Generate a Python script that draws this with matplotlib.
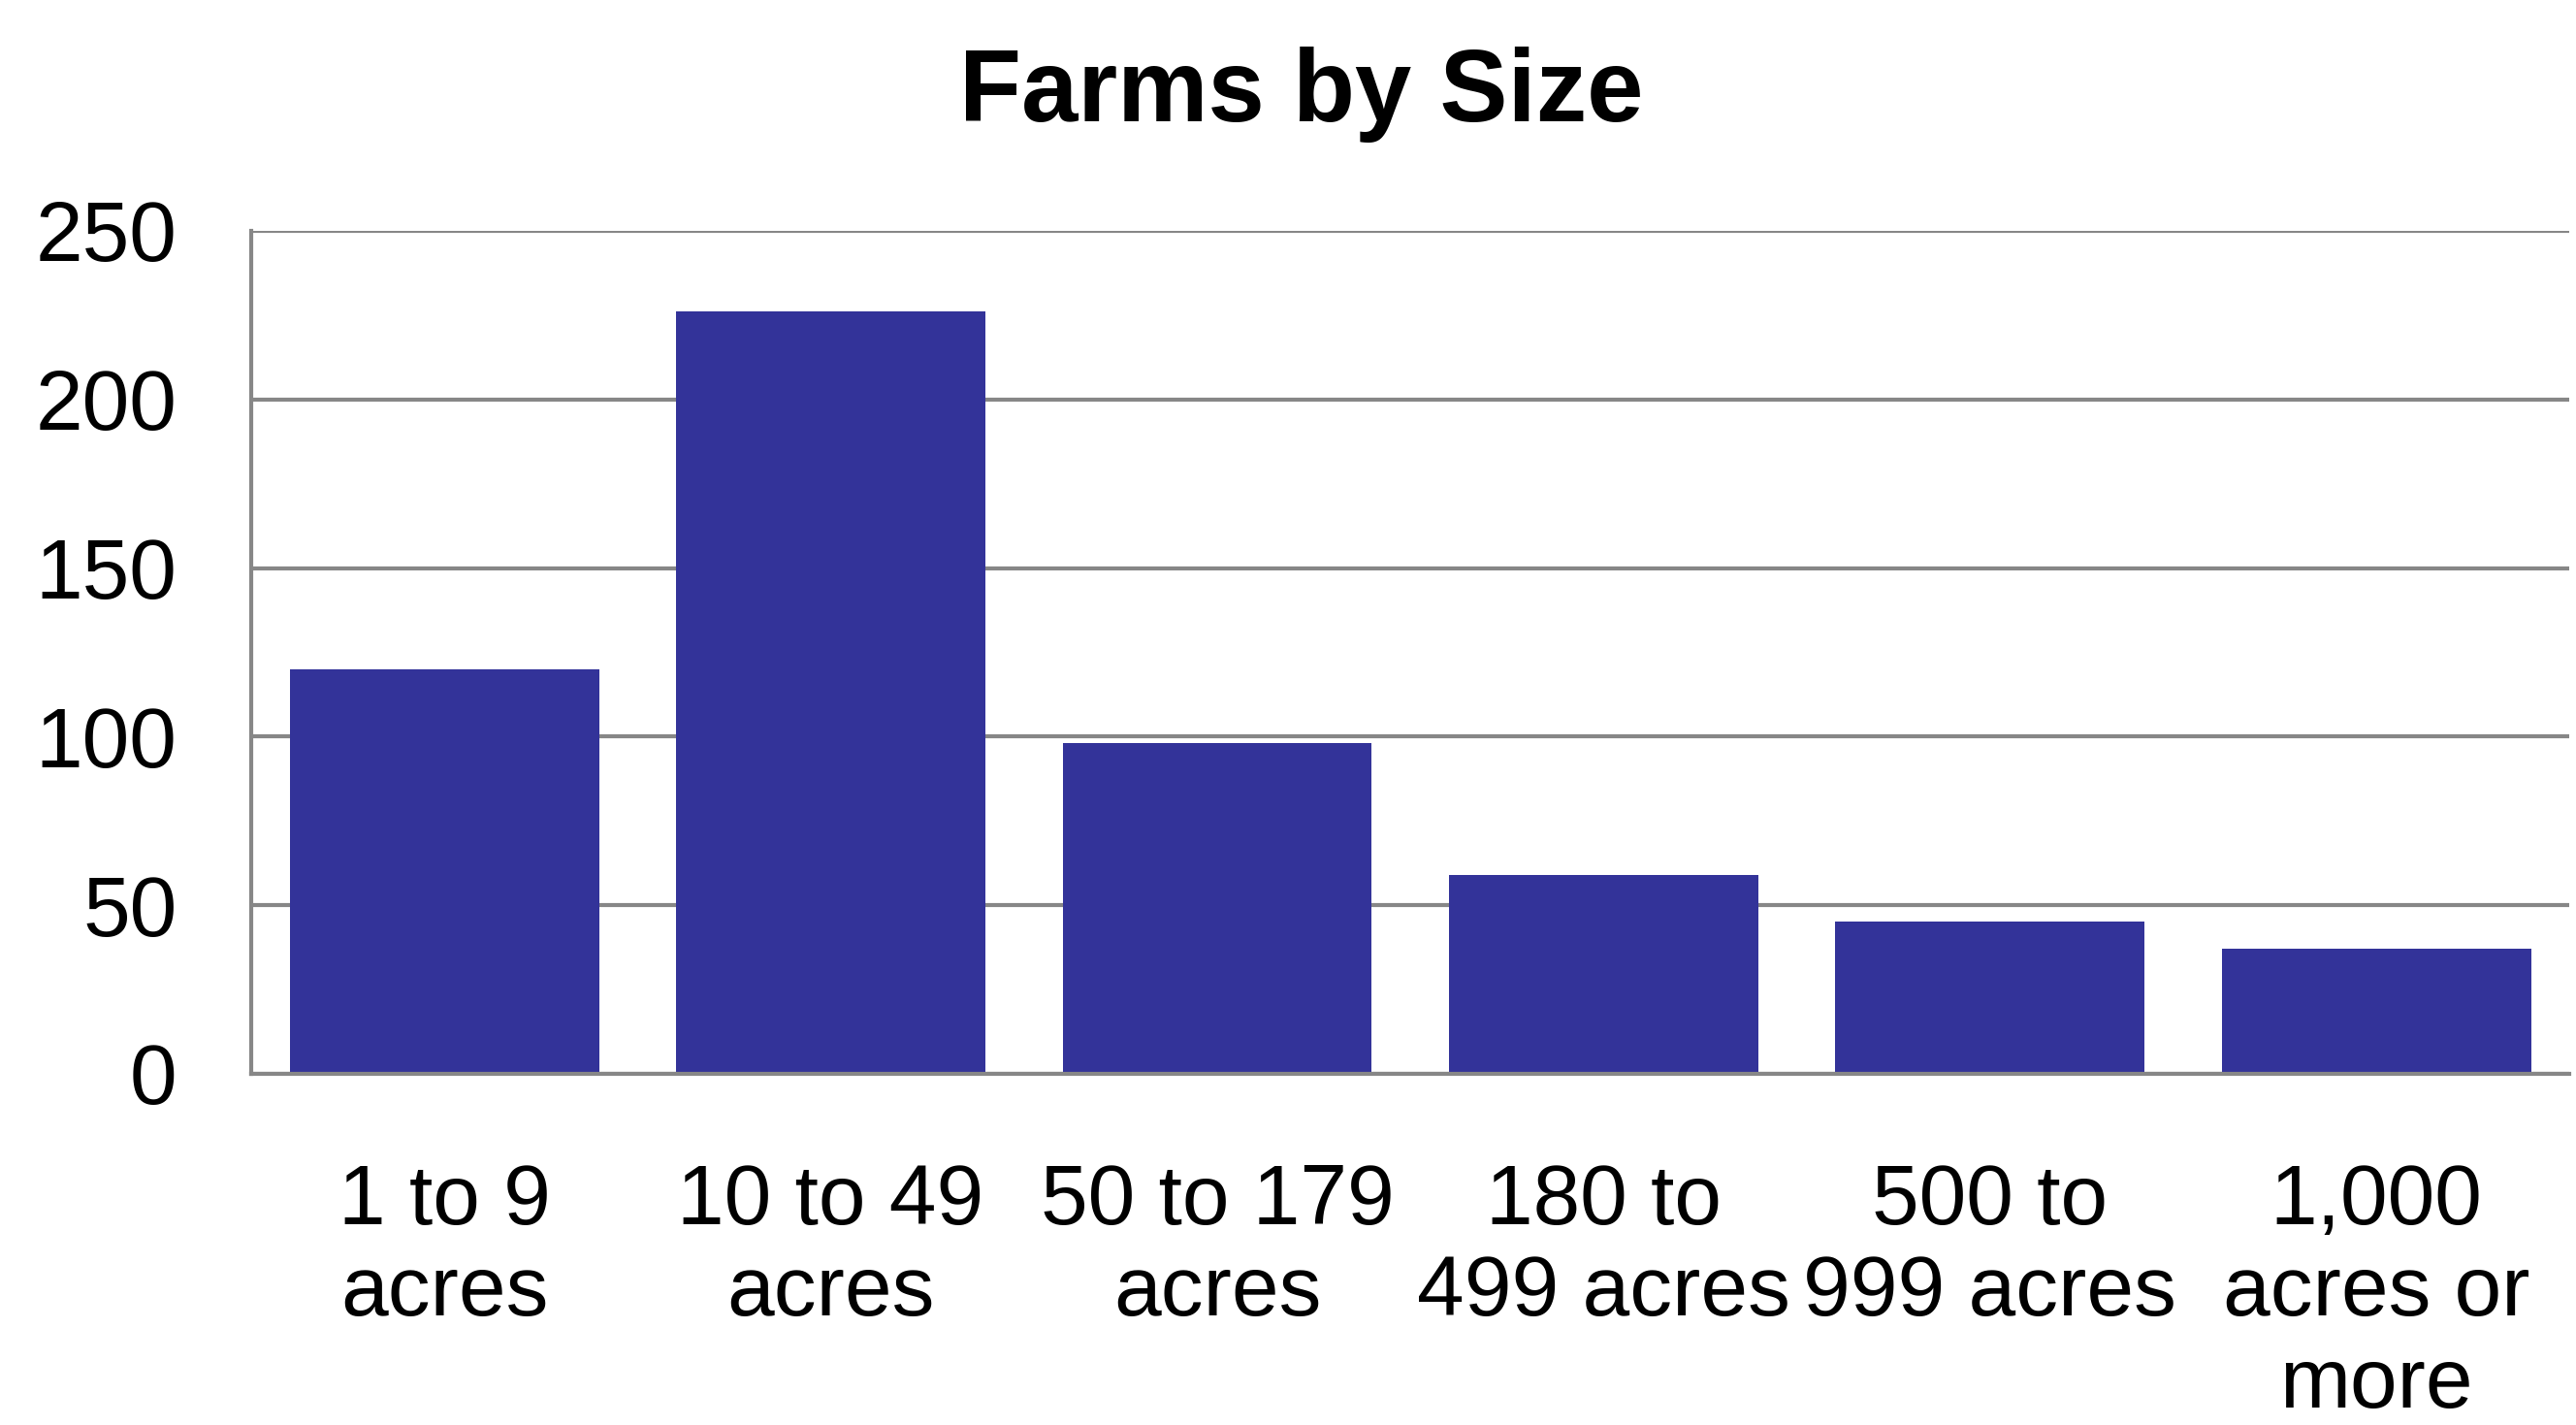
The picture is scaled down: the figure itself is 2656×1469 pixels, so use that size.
import numpy as np
import matplotlib.pyplot as plt

plt.rcParams['font.family'] = ['Liberation Sans', 'DejaVu Sans']

# data
categories = ['1 to 9\nacres', '10 to 49\nacres', '50 to 179\nacres',
              '180 to\n499 acres', '500 to\n999 acres', '1,000\nacres or\nmore']
farms = [120, 226, 98, 59, 45, 37]
yticks = [0, 50, 100, 150, 200, 250]

grey = '#878787'
bar_color = '#333399'

fig = plt.figure(figsize=(26.56, 14.69), dpi=100)
ax = fig.add_axes([0.0975, 0.2465, 0.9, 0.5915])

x = np.arange(len(categories))
ax.bar(x, farms, width=0.8, color=bar_color, zorder=3)

ax.set_xlim(-0.5, len(categories) - 0.5)
ax.set_ylim(0, 250)
ax.set_yticks(yticks)
ax.set_xticks(x)
ax.set_xticklabels(categories, fontsize=63, linespacing=1.22)
ax.tick_params(axis='y', labelsize=63, length=0, pad=55)
ax.tick_params(axis='x', length=0, pad=66)

ax.yaxis.grid(True, color=grey, linewidth=3, zorder=0)
ax.set_axisbelow(True)
for s in ['top', 'right']:
    ax.spines[s].set_visible(False)
for s in ['left', 'bottom']:
    ax.spines[s].set_color(grey)
    ax.spines[s].set_linewidth(3)
    ax.spines[s].set_zorder(4)

fig.text(0.505, 0.915, 'Farms by Size', ha='center', va='baseline',
         fontsize=75.5, fontweight='bold')

fig.savefig('out.png', dpi=100)
